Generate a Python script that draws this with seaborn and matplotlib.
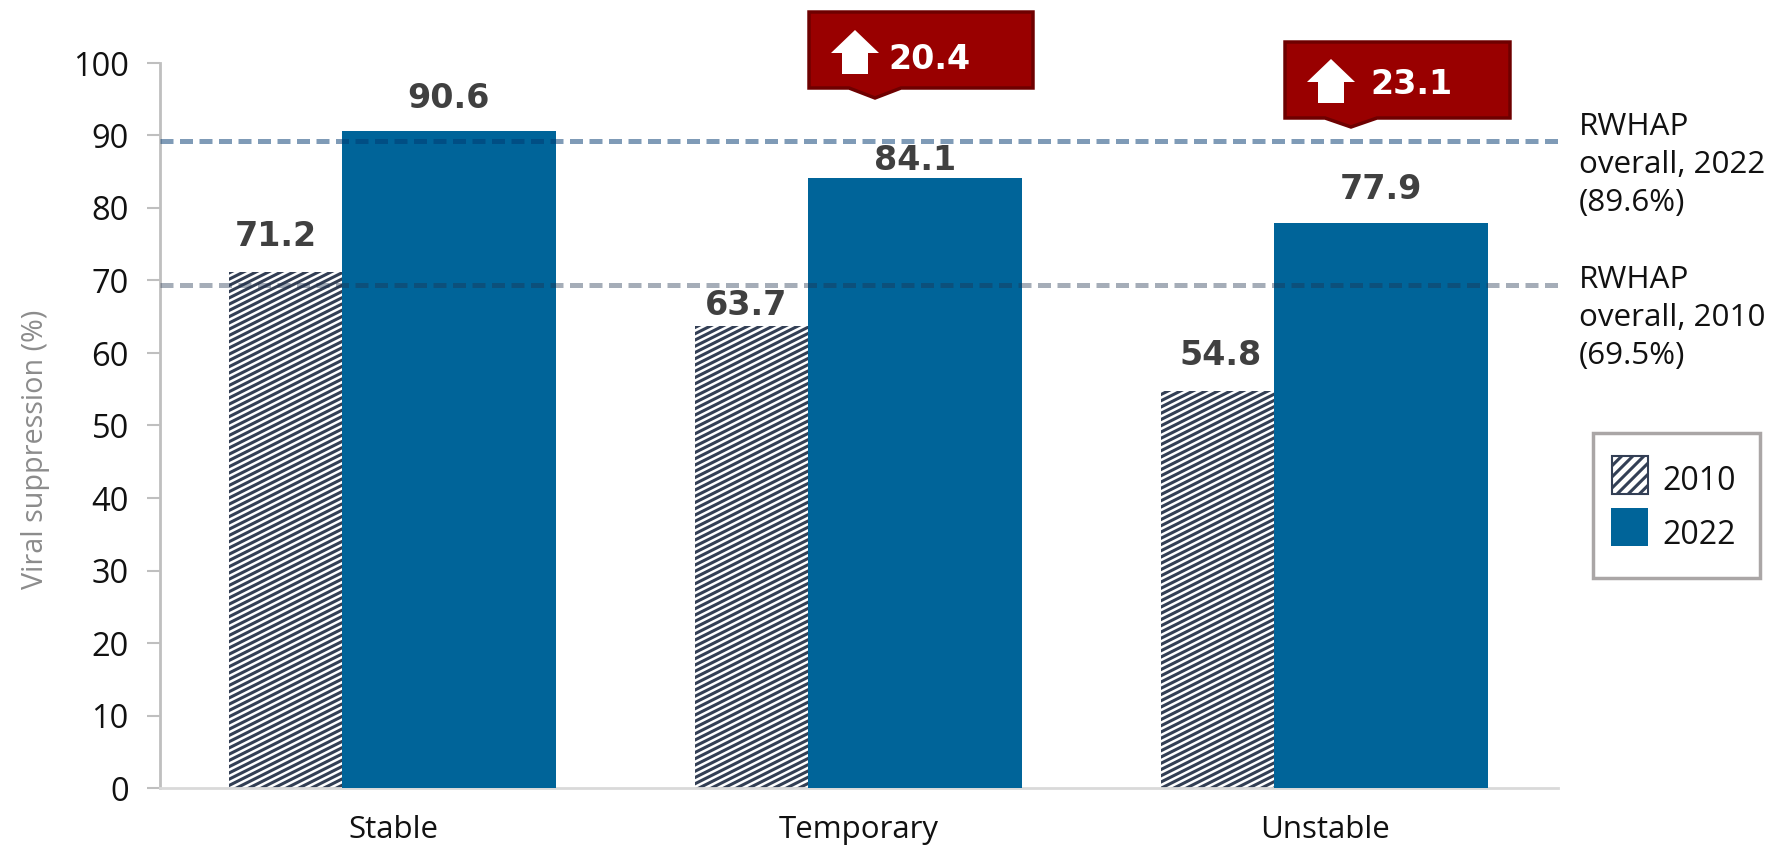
import matplotlib
matplotlib.use("Agg")
import matplotlib.pyplot as plt
from matplotlib import hatch as mhatch
from matplotlib.path import Path
from matplotlib.patches import Polygon, Rectangle
from matplotlib.transforms import IdentityTransform
import seaborn as sns
import pandas as pd

categories = ["Stable", "Temporary", "Unstable"]
values_2010 = [71.2, 63.7, 54.8]
values_2022 = [90.6, 84.1, 77.9]
overall_2022_label = 89.6
overall_2010_label = 69.5
line_2022 = 89.3
line_2010 = 69.4
changes = ["20.4", "23.1"]
y_ticks = list(range(0, 101, 10))

# label placement (pixels)
gap_2010 = [26, 11, 26]
gap_2022 = [23, 8, 24]
dx_2010 = [-10, -5, 3]

W, H = 1773, 846
NAVY, BLUE, RED, DARKRED = "#333f55", "#006499", "#990000", "#6e0000"


class ShallowHatch(mhatch.HatchPatternBase):
    """Shallow diagonal stripes (slope 1/2), as in the reference bars; selected by '-'."""
    def __init__(self, pattern, density):
        self.num_lines = 28 if "-" in pattern else 0
        self.num_vertices = self.num_lines * 2

    def set_vertices_and_codes(self, vertices, codes):
        for k in range(self.num_lines):
            y0 = (k - 10) / 16
            vertices[2 * k] = (-0.1, y0 - 0.05)
            vertices[2 * k + 1] = (1.1, y0 + 0.55)
            codes[2 * k] = Path.MOVETO
            codes[2 * k + 1] = Path.LINETO


mhatch._hatch_types[mhatch._hatch_types.index(mhatch.HorizontalHatch)] = ShallowHatch

sns.set_theme(style="white")
plt.rcParams["font.family"] = ["Open Sans", "DejaVu Sans"]
plt.rcParams["hatch.linewidth"] = 2.2

df = pd.DataFrame({
    "cat": categories * 2,
    "year": ["2010"] * 3 + ["2022"] * 3,
    "val": values_2010 + values_2022,
})

fig = plt.figure(figsize=(W / 100, H / 100), dpi=100, facecolor="white")
ax = fig.add_axes([160 / W, 1 - 788 / H, (1558 - 160) / W, (788 - 63) / H])
sns.barplot(data=df, x="cat", y="val", hue="year", order=categories,
            hue_order=["2010", "2022"], palette=[NAVY, BLUE], dodge=True,
            width=0.7, legend=False, ax=ax, saturation=1, errorbar=None)
ax.set_xlim(-0.5, 2.5)
ax.set_ylim(0, 100)

bars = list(ax.patches)
for i, b in enumerate(bars[:3]):
    b.set_facecolor("white"); b.set_edgecolor(NAVY); b.set_hatch("-"); b.set_linewidth(0)
    b.set_x(i - 0.352); b.set_width(0.245)
for i, b in enumerate(bars[3:]):
    b.set_x(i - 0.109); b.set_width(0.459); b.set_zorder(3); b.set_linewidth(0)

# reference lines
ax.axhline(line_2022, color="#003971", alpha=0.5, lw=3.6, ls=(0, (2.6, 1.3)), zorder=4)
ax.axhline(line_2010, color="#20324e", alpha=0.4, lw=3.6, ls=(0, (2.6, 1.3)), zorder=4)

# axes
for s in ["top", "right"]:
    ax.spines[s].set_visible(False)
ax.spines["left"].set_color("#bfbfbf"); ax.spines["left"].set_linewidth(2)
ax.spines["bottom"].set_color("#d9d9d9"); ax.spines["bottom"].set_linewidth(2)
ax.set_yticks(y_ticks)
ax.tick_params(axis="y", length=9.5, width=1.5, color="#bfbfbf", labelsize=23.5, labelcolor="#111111", pad=13, left=True)
ax.tick_params(axis="x", length=0, labelsize=22.5, labelcolor="#111111", pad=19.5)
ax.set_xlabel("")
ax.set_ylabel("Viral suppression (%)", fontsize=20.7, color="#8c8c8c")
ax.yaxis.set_label_coords(-0.0787, 0.4676)

# data labels
for i, v in enumerate(values_2010):
    ax.annotate(f"{v}", (i - 0.231, v), xytext=(dx_2010[i] * 0.72, gap_2010[i] * 0.72),
                textcoords="offset points", ha="center", va="baseline", fontsize=24, fontweight="bold",
                color="#404040", family="DejaVu Sans", zorder=6)
for i, v in enumerate(values_2022):
    ax.annotate(f"{v}", (i + 0.12, v), xytext=(0, gap_2022[i] * 0.72),
                textcoords="offset points", ha="center", va="baseline", fontsize=24, fontweight="bold",
                color="#404040", family="DejaVu Sans", zorder=6)

def px(x, y):
    return (x, H - y)

def callout(x0, x1, y0, y1, tx, tip, ax_c, ay, tleft, tbase, label):
    pts = [px(x0, y0), px(x1, y0), px(x1, y1), px(tx + 26, y1), px(tx, tip), px(tx - 26, y1), px(x0, y1)]
    fig.add_artist(Polygon(pts, closed=True, transform=IdentityTransform(), facecolor=RED, edgecolor=DARKRED, lw=2.5))
    arrow = [px(ax_c, ay), px(ax_c + 24, ay + 23), px(ax_c + 13, ay + 23), px(ax_c + 13, ay + 44),
             px(ax_c - 13, ay + 44), px(ax_c - 13, ay + 23), px(ax_c - 24, ay + 23)]
    fig.add_artist(Polygon(arrow, closed=True, transform=IdentityTransform(), facecolor="white", edgecolor="none"))
    fig.text(tleft / W, 1 - tbase / H, label, color="white", fontsize=24, fontweight="bold",
             family="DejaVu Sans", ha="left", va="baseline")

callout(809, 1033, 12, 88, 875, 98, 855, 30, 888, 69, changes[0])
callout(1285, 1510, 42, 118, 1351, 127, 1331, 59, 1370, 94, changes[1])

# side notes
for y, txt in [(165, f"RWHAP\noverall, 2022\n({overall_2022_label}%)"), (318, f"RWHAP\noverall, 2010\n({overall_2010_label}%)")]:
    fig.text(1579 / W, 1 - y / H, txt, fontsize=22.6, color="#111111", ha="left", va="center",
             linespacing=1.33)

# legend
fig.add_artist(Rectangle((1593, H - 578), 167, 145, transform=IdentityTransform(), facecolor="white",
                         edgecolor="#aaa6a6", lw=2.5))
fig.add_artist(Rectangle((1612, H - 494), 36, 38, transform=IdentityTransform(), facecolor="white",
                         edgecolor=NAVY, hatch="///", lw=1.5))
fig.add_artist(Rectangle((1611, H - 546), 37, 38, transform=IdentityTransform(), facecolor=BLUE, edgecolor="none"))
fig.text(1662 / W, 1 - 481 / H, "2010", fontsize=23, color="#111111", va="center")
fig.text(1662 / W, 1 - 535 / H, "2022", fontsize=23, color="#111111", va="center")

fig.savefig("out.png", dpi=100, facecolor="white")
